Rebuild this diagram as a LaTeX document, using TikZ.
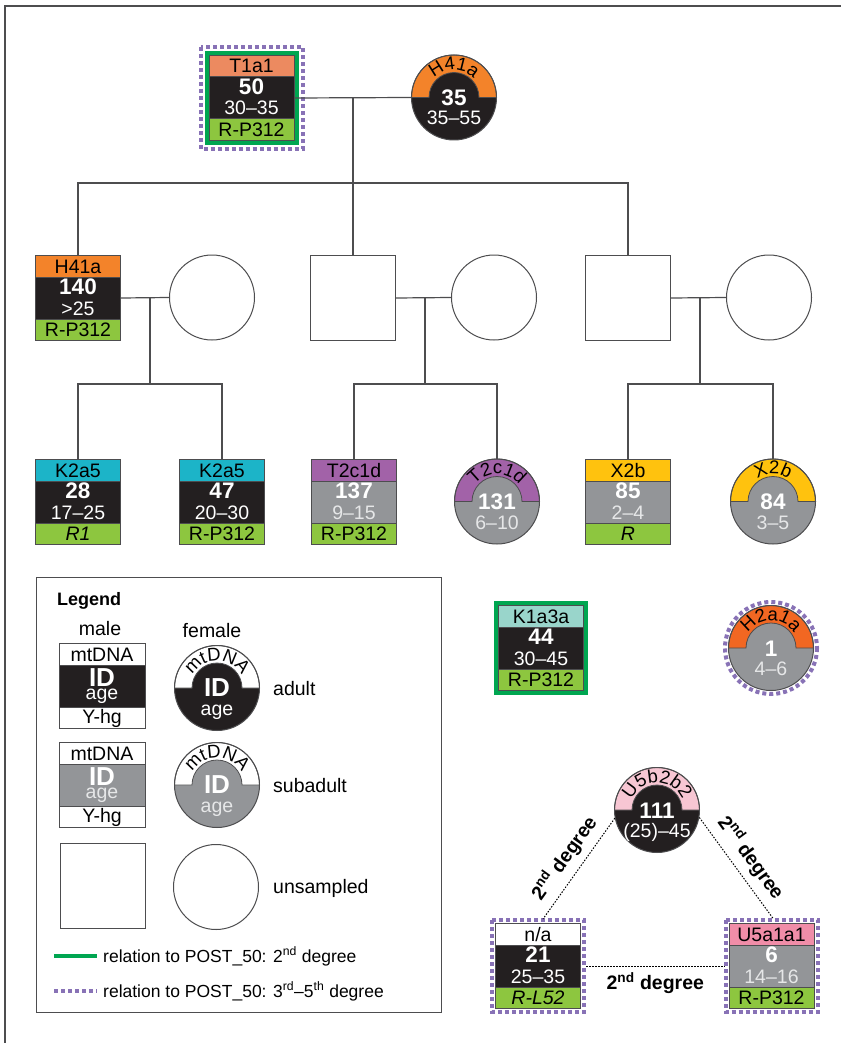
\documentclass[tikz,border=0pt]{standalone}
\usepackage{fontspec}
\setmainfont{Liberation Sans}
\usetikzlibrary{calc,decorations.text}

\definecolor{lc}{HTML}{4D4D4F}
\definecolor{bodyblack}{HTML}{231F20}
\definecolor{bodygray}{HTML}{939598}
\definecolor{agegray}{HTML}{E6E7E8}
\definecolor{ygreen}{HTML}{8DC63F}
\definecolor{salmon}{HTML}{EC8A60}
\definecolor{orangeA}{HTML}{F3832A}
\definecolor{orangeB}{HTML}{F26722}
\definecolor{cyanA}{HTML}{1CB4C8}
\definecolor{purpleA}{HTML}{A262A8}
\definecolor{yellowA}{HTML}{FFC20E}
\definecolor{tealA}{HTML}{99D5CB}
\definecolor{pinkA}{HTML}{F7C6D3}
\definecolor{pinkB}{HTML}{F08DA8}
\definecolor{greenB}{HTML}{00A651}
\definecolor{dotpurple}{HTML}{8872B6}

\newcommand\fLab{\fontsize{19.5}{21}\selectfont}
\newcommand\fArc{\fontsize{18.5}{20}\selectfont}
\newcommand\fId{\fontsize{22.5}{24}\selectfont\bfseries}
\newcommand\fAge{\fontsize{19.5}{21}\selectfont}

\tikzset{
  conn/.style={draw=lc, line width=1.2pt},
  frameline/.style={draw=lc, line width=1.5pt},
  cell/.style={draw=lc, line width=1pt},
  txt/.style={inner sep=0pt, anchor=base},
  bodyA/.style={fill=bodyblack}, ageA/.style={text=white},
  bodyS/.style={fill=bodygray}, ageS/.style={text=agegray},
  deg2/.style={draw=greenB, line width=4pt},
  deg3/.style={draw=dotpurple, line width=4pt, dash pattern=on 4pt off 3pt},
  tri/.style={draw=black, line width=1pt, dash pattern=on 1.5pt off 1.5pt},
  lbl/.style={font=\fontsize{19.5}{21}\selectfont\bfseries, inner sep=1pt},
  leg/.style={font=\fontsize{19.5}{21}\selectfont, inner sep=0pt, anchor=base west},
  rel/.style={font=\fontsize{17.5}{20}\selectfont, inner sep=0pt, anchor=base west},
  unsq/.style={cell, fill=white, minimum width=85pt, minimum height=85pt, inner sep=0pt, anchor=north},
  uncirc/.style={cell, circle, fill=white, minimum size=85pt, inner sep=0pt},
}

% name, cx, top y, mt colour, body (A/S), mtDNA, ID, age, Y-hg
\newcommand\malebox[9]{%
  \fill[#4] (#2-42.5,#3) rectangle (#2+42.5,#3+22);
  \fill[body#5] (#2-42.5,#3+22) rectangle (#2+42.5,#3+64);
  \fill[ygreen] (#2-42.5,#3+64) rectangle (#2+42.5,#3+85);
  \draw[cell] (#2-42.5,#3+22) -- (#2+42.5,#3+22) (#2-42.5,#3+64) -- (#2+42.5,#3+64);
  \node[cell, minimum width=85pt, minimum height=85pt, inner sep=0pt, anchor=north] (#1) at (#2,#3) {};
  \node[txt] (#1-mt) at (#2,#3+18) {\fLab #6};
  \node[txt, text=white] (#1-id) at (#2,#3+39.5) {\fId #7};
  \node[txt, age#5] (#1-age) at (#2,#3+60) {\fAge #8};
  \node[txt] (#1-y) at (#2,#3+81.5) {\fLab #9};
}

% name, cx, cy, mt colour, body (A/S), mtDNA, ID, age
\newcommand\femcirc[8]{%
  \fill[body#5] (#2,#3) circle[radius=42.5];
  \filldraw[fill=#4, draw=lc, line width=0.8pt] (#2-42.5,#3) arc[start angle=180, end angle=360, radius=42.5]
     -- (#2+25,#3) arc[start angle=0, end angle=-180, radius=25] -- cycle;
  \node[cell, circle, minimum size=85pt, inner sep=0pt] (#1) at (#2,#3) {};
  \path[decorate, decoration={text along path, text align=center, text={|\fArc|#6}}]
     (#2,#3) ++(188:27.5) arc[start angle=188, end angle=352, radius=27.5];
  \node[txt, text=white] (#1-id) at (#2,#3+8) {\fId #7};
  \node[txt, age#5] (#1-age) at (#2,#3+27.5) {\fAge #8};
}

% legend male: name, cx, top y, body (A/S)
\newcommand\legmale[4]{%
  \fill[white] (#2-43,#3) rectangle (#2+43,#3+22);
  \fill[body#4] (#2-43,#3+22) rectangle (#2+43,#3+64);
  \draw[cell] (#2-43,#3+22) -- (#2+43,#3+22) (#2-43,#3+64) -- (#2+43,#3+64);
  \node[cell, minimum width=86pt, minimum height=85pt, inner sep=0pt, anchor=north] (#1) at (#2,#3) {};
  \node[txt] (#1-mt) at (#2,#3+18.5) {\fLab mtDNA};
  \node[txt, text=white] (#1-id) at (#2,#3+43) {\fontsize{26}{26}\selectfont\bfseries ID};
  \node[txt, age#4] (#1-age) at (#2,#3+56) {\fAge age};
  \node[txt] (#1-y) at (#2,#3+80) {\fLab Y-hg};
}

\begin{document}
\begin{tikzpicture}[x=1pt, y=-1pt]
\useasboundingbox (0,0) rectangle (841,1043);
\fill[white] (0,0) rectangle (841,1043);
\draw[frameline] (4,6) -- (841,6);
\draw[frameline] (5,6) -- (5,1043);

% ---------- generation 1
\malebox{t1a1}{251.5}{55}{salmon}{A}{T1a1}{50}{30--35}{R-P312}
\draw[deg2] ($(t1a1.north west)+(-2,-2)$) rectangle ($(t1a1.south east)+(2,2)$);
\draw[deg3] ($(t1a1.north west)+(-8,-8)$) rectangle ($(t1a1.south east)+(8,8)$);
\femcirc{h41c}{454}{97.5}{orangeA}{A}{H41a}{35}{35--55}

% ---------- generation 2
\malebox{h41b}{78}{255}{orangeA}{A}{H41a}{140}{>25}{R-P312}
\node[uncirc] (c1) at (212,297.5) {};
\node[unsq] (sq2) at (353,255) {};
\node[uncirc] (c2) at (494,297.5) {};
\node[unsq] (sq3) at (628,255) {};
\node[uncirc] (c3) at (769,297.5) {};

% ---------- generation 3
\malebox{k2a}{78}{459}{cyanA}{A}{K2a5}{28}{17--25}{{\itshape R1}}
\malebox{k2b}{222}{459}{cyanA}{A}{K2a5}{47}{20--30}{R-P312}
\malebox{t2b}{354}{459}{purpleA}{S}{T2c1d}{137}{9--15}{R-P312}
\femcirc{t2c}{497}{501.5}{purpleA}{S}{T2c1d}{131}{6--10}
\malebox{x2b}{628}{459}{yellowA}{S}{X2b}{85}{2--4}{{\itshape R}}
\femcirc{x2c}{773}{501.5}{yellowA}{S}{X2b}{84}{3--5}

% ---------- connectors
\coordinate (m0) at (353,97.5);
\coordinate (s0) at (353,183);
\draw[conn] (t1a1.east) -- (h41c.west);
\draw[conn] (m0) -- (sq2.north);
\draw[conn] (h41b.north) -- (h41b.north |- s0) -- (sq3.north |- s0) -- (sq3.north);

\coordinate (m1) at (150,297.5);
\coordinate (s1) at (150,384);
\draw[conn] (h41b.east) -- (c1.west);
\draw[conn] (m1) -- (s1);
\draw[conn] (k2a.north) -- (k2a.north |- s1) -- (k2b.north |- s1) -- (k2b.north);

\coordinate (m2) at (425,297.5);
\coordinate (s2) at (425,384);
\draw[conn] (sq2.east) -- (c2.west);
\draw[conn] (m2) -- (s2);
\draw[conn] (t2b.north) -- (t2b.north |- s2) -- (t2c.north |- s2) -- (t2c.north);

\coordinate (m3) at (700,297.5);
\coordinate (s3) at (700,384);
\draw[conn] (sq3.east) -- (c3.west);
\draw[conn] (m3) -- (s3);
\draw[conn] (x2b.north) -- (x2b.north |- s3) -- (x2c.north |- s3) -- (x2c.north);

% ---------- unconnected individuals
\malebox{k1a}{541}{605}{tealA}{A}{K1a3a}{44}{30--45}{R-P312}
\draw[deg2] ($(k1a.north west)+(-2,-2)$) rectangle ($(k1a.south east)+(2,2)$);
\femcirc{h2a}{771}{648}{orangeB}{S}{H2a1a}{1}{4--6}
\draw[deg3] (h2a) circle[radius=46];

% ---------- triangle
\femcirc{u5b}{657}{810}{pinkA}{A}{U5b2b2}{111}{(25)--45}
\malebox{na}{538}{923}{white}{A}{n/a}{21}{25--35}{{\itshape R-L52}}
\draw[deg3] ($(na.north west)+(-3,-3)$) rectangle ($(na.south east)+(3,3)$);
\malebox{u5a}{771.5}{923}{pinkB}{S}{U5a1a1}{6}{14--16}{R-P312}
\draw[deg3] ($(u5a.north west)+(-3,-3)$) rectangle ($(u5a.south east)+(3,3)$);

\draw[tri] (u5b.191) -- node[sloped, above=6pt, lbl] (lab1) {2\textsuperscript{nd} degree} ([xshift=5pt,yshift=4pt]na.north);
\draw[tri] (u5b.350) -- node[sloped, above=6pt, lbl] (lab2) {2\textsuperscript{nd} degree} ([xshift=2pt,yshift=4pt]u5a.north);
\draw[tri] ([xshift=5pt]na.east) -- node[below=5pt, lbl] (lab3) {2\textsuperscript{nd} degree} ([xshift=-4pt]u5a.west);

% ---------- legend
\node[cell, minimum width=405pt, minimum height=435pt, inner sep=0pt, anchor=north west] (legend) at (36,577) {};
\node[txt, anchor=base west, font=\fontsize{18}{20}\selectfont\bfseries] (legtitle) at (57,605) {Legend};
\node[txt, font=\fontsize{19.5}{21}\selectfont] (lmale) at (100,635) {male};
\node[txt, font=\fontsize{19.5}{21}\selectfont] (lfemale) at (212,637) {female};
\legmale{lma}{102}{643}{A}
\femcirc{lfa}{217}{688}{white}{A}{mtDNA}{{\fontsize{26}{26}\selectfont ID}}{age}
\node[leg] (ladult) at (273,695) {adult};
\legmale{lms}{102}{742}{S}
\femcirc{lfs}{217}{785}{white}{S}{mtDNA}{{\fontsize{26}{26}\selectfont ID}}{age}
\node[leg] (lsub) at (273,792) {subadult};
\node[unsq] (lmu) at (103,843) {};
\node[uncirc] (lfu) at (216,887) {};
\node[leg] (lun) at (273,893) {unsampled};

\coordinate (g1) at (54,956);
\coordinate (g2) at (97,956);
\draw[deg2] (g1) -- (g2);
\node[rel] (lrel2) at (103,962) {relation to POST\_50: 2\textsuperscript{nd} degree};
\coordinate (p1) at (54,991);
\coordinate (p2) at (97,991);
\draw[deg3] (p1) -- (p2);
\node[rel] (lrel3) at (103,997) {relation to POST\_50: 3\textsuperscript{rd}--5\textsuperscript{th} degree};
\end{tikzpicture}
\end{document}
